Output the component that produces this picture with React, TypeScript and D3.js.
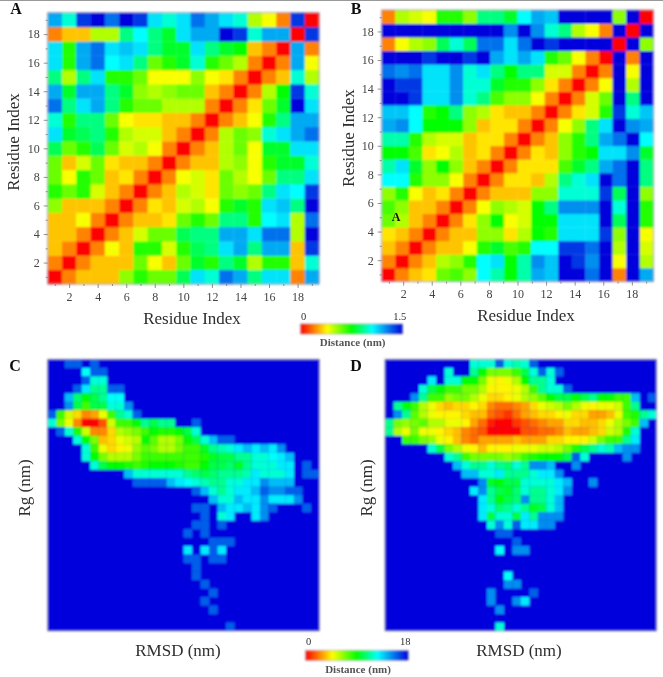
import React, { useRef, useEffect } from 'react';
import * as d3 from 'd3';

// Distance maps, lower triangle, row 1 first, in tenths of a nm (0 - 15)
const matrixA = [
  [0],
  [2, 0],
  [3, 2, 0],
  [3, 3, 2, 0],
  [3, 3, 4, 2, 0],
  [5.5, 3, 3, 3, 2, 0],
  [7, 6, 7, 4.5, 3, 2, 0],
  [6, 4, 7, 6, 3, 3.5, 2, 0],
  [6, 3, 4.5, 6, 3.5, 3, 3, 2, 0],
  [8.5, 6, 7, 8.5, 6, 4.5, 5, 4, 2, 0],
  [11, 8, 8.5, 9, 7, 5, 4.5, 4.5, 3, 2, 0],
  [10, 7, 9, 9, 6, 4, 3.5, 3.5, 3, 3, 2, 0],
  [13, 9, 11, 12, 9, 7, 6, 6, 5, 5, 5, 2, 0],
  [12, 8, 12, 12, 9, 8, 5.5, 5, 5.5, 6, 6, 3, 2, 0],
  [9, 5, 9, 11, 7, 7, 6, 4, 4, 4, 5.5, 4, 3.5, 2, 0],
  [11, 7, 12, 13, 10.5, 11, 9, 6, 7, 8, 10, 7, 6, 5, 2, 0],
  [11, 7, 12, 13, 11, 11.5, 11, 9, 8, 8, 11, 9, 8, 7.5, 3, 2, 0],
  [2, 3, 3, 5, 5, 9, 10.5, 9, 8, 11, 12, 12, 15, 14, 10, 12, 12, 0],
  [12, 10, 14, 15, 13, 15, 14, 11, 10, 11, 13, 12, 11, 10, 5, 4, 2, 14, 0]
];

// B has 20 cells per side, though its axes only count to 19
const matrixB = [
  [0],
  [2, 0],
  [3, 2, 0],
  [3.5, 3, 2, 0],
  [6, 5, 3, 2, 0],
  [6.5, 5.5, 3, 3, 2, 0],
  [5.5, 7, 4, 3, 3.5, 2, 0],
  [10.5, 10.5, 7, 5.5, 5.5, 4, 2, 0],
  [9.5, 11, 8, 5.5, 7.5, 5.5, 3, 2, 0],
  [7.5, 7.5, 6.5, 3.5, 4, 5, 3, 3.5, 2, 0],
  [9.5, 9.5, 7, 5, 4.5, 4.5, 3, 3.5, 3.5, 2, 0],
  [12, 12.5, 10.5, 7.5, 7.5, 7.5, 5.5, 3, 3.5, 3.5, 2, 0],
  [11.5, 11.5, 10.5, 7, 7.5, 9, 5.5, 5, 3.5, 3, 3, 2, 0],
  [15, 15, 14, 11, 11, 12.5, 10, 9, 6.5, 5.5, 5.5, 4, 2, 0],
  [15, 14, 14, 11, 11, 12.5, 10, 10, 8, 7, 7, 5.5, 3.5, 2, 0],
  [13, 12.5, 13, 11, 11, 12.5, 10, 11, 9, 7.5, 9, 9, 4.5, 4.5, 2, 0],
  [15, 15, 15, 14, 15, 15, 14, 15, 12, 11, 12, 11, 7, 6, 4, 2, 0],
  [2, 4, 5, 5.5, 8.5, 10, 8.5, 13, 13, 11, 13, 15, 14, 15, 15, 15, 15, 0],
  [15, 15, 15, 15, 15, 15, 15, 15, 15, 12.5, 15, 12.5, 10, 9, 5, 4, 2, 15, 0],
  [2, 5, 4.5, 4, 7, 7, 5.5, 9, 9, 8, 10.5, 12, 11.5, 15, 15, 15, 15, 5.5, 15, 0]
];

// the one cell of map B that does not mirror: [column, row, value]
const oddCellsB = [[20, 1, 12]];

// Histograms: [row from top, first column, values...], everything else is background (18)
const histC = [
  [0, 2, 16, 16, 18, 16],
  [1, 4, 12.5, 16, 16],
  [2, 4, 16, 12, 12],
  [3, 3, 16, 13, 11, 11, 16, 16],
  [4, 2, 14, 10.5, 9, 10, 11, 12.5, 12.5],
  [5, 2, 15, 10, 8, 10, 10, 12, 12, 15],
  [6, 0, 16, 8, 5.5, 4, 2.5, 3, 5, 8, 11, 12, 16],
  [7, 0, 12, 7, 5, 2.5, 0, 0, 1.5, 5.5, 8, 8, 9, 11, 10, 11, 11, 18, 18, 16],
  [8, 1, 16, 12, 8.5, 5.5, 2.5, 2.5, 4, 6, 6.5, 7, 8, 9, 8.5, 8.5, 9, 10, 12],
  [9, 3, 12, 9, 7, 3.5, 4, 5, 5.5, 6, 9, 7.5, 6, 6, 7, 9, 10, 12, 14, 16, 16],
  [10, 4, 12, 8, 5, 4, 4.5, 5, 6.5, 7.5, 7, 6, 6, 7, 8, 8, 9.5, 11, 11.5, 12, 13, 14, 13, 14, 13, 15],
  [11, 4, 12, 9, 7, 6, 6, 6, 7, 8, 8, 8, 8, 8, 8, 8, 8.5, 9.5, 10, 10, 11, 11, 12, 12, 12.5, 13, 14],
  [12, 5, 12, 10, 9, 9, 8.5, 8, 8.5, 9, 9, 9, 8.5, 8, 8, 9, 10, 10, 10.5, 9.5, 11, 12, 12, 12, 13, 13, 18, 16],
  [13, 9, 14, 12, 12, 12, 12, 12, 12, 11, 10.5, 10, 10.5, 11, 11, 11, 11.5, 13, 12, 12, 12, 13, 18, 16, 16],
  [14, 10, 16, 16, 16, 16, 14, 13, 12.5, 12, 11.5, 11, 11, 12, 12, 13, 13, 15, 14, 14, 14],
  [15, 17, 16, 14, 12, 11, 12, 13, 13, 14, 16, 15, 15, 16, 16],
  [16, 19, 14, 12, 12, 14, 13, 13, 15, 13, 13, 13, 15],
  [17, 17, 16, 16, 18, 14, 13, 13, 14, 13, 15, 16, 18, 18, 18, 16],
  [18, 18, 16, 18, 12, 13, 18, 18, 13, 15],
  [19, 17, 16, 16, 18, 16],
  [20, 16, 16, 18, 16],
  [21, 19, 16, 16, 16],
  [22, 16, 13, 18, 13, 16, 13],
  [23, 16, 16, 16, 18, 16, 16],
  [24, 17, 16],
  [25, 17, 16],
  [26, 18, 16],
  [27, 19, 16],
  [28, 18, 16],
  [29, 19, 16],
  [31, 21, 16]
];

const histD = [
  [0, 10, 12, 12, 12, 16, 12, 11.5, 12, 16],
  [1, 7, 12, 18, 18, 11, 9, 7, 7, 7, 8, 10, 12, 16, 12, 16],
  [2, 5, 13, 18, 12, 12, 9, 9, 7, 5, 4.5, 5, 6, 9, 11, 11, 12],
  [3, 4, 12, 10, 9, 8, 8, 7, 7, 6, 4.5, 4.5, 4.5, 5, 6, 8, 11, 12, 12, 16],
  [4, 3, 15, 11, 8, 8, 6.5, 7, 7, 6, 5, 4, 4, 4.5, 5, 6, 6.5, 7.5, 9, 10, 10, 9, 10, 11, 9, 9, 8, 8, 14, 18, 16],
  [5, 1, 11, 9, 8, 6, 5, 4, 3.5, 4, 4, 4.5, 4, 2.5, 2, 2, 2.5, 3, 4, 5, 5.5, 6, 7, 6, 5, 4.5, 5, 5, 5.5, 8, 11],
  [6, 1, 15, 11, 7.5, 6, 5, 4.5, 4.5, 4.5, 4, 3.5, 3.5, 2, 1.5, 1, 2, 3, 3.5, 4, 4, 4.5, 5, 4, 4, 3, 3, 3.5, 5, 8, 8.5, 11, 12],
  [7, 0, 11, 7, 6.5, 7, 7.5, 6, 6, 5, 5, 4.5, 3, 2, 0.5, 0, 0, 1, 1.5, 2, 2.5, 3, 3, 4, 4, 3.5, 3.5, 4, 5, 6, 7, 8, 14],
  [8, 0, 11, 6, 5, 7, 5, 5, 4.5, 4, 3.5, 2.5, 2, 1.5, 0, 0, 0, 0, 1.5, 1.5, 2, 2, 2.5, 3.5, 3, 3, 3.5, 4, 5.5, 6, 8.5, 12],
  [9, 2, 8, 8, 7, 6.5, 5, 4.5, 3.5, 2.5, 2, 3, 3, 3, 3, 3.5, 3, 3, 3, 4, 4, 4.5, 4.5, 4.5, 5.5, 7, 8, 8, 11, 13],
  [10, 5, 12, 10, 7, 6, 5, 4.5, 3.5, 4.5, 4.5, 4.5, 5, 5, 5, 5.5, 5.5, 6, 7, 8.5, 10, 11, 12, 11.5, 14, 15, 15],
  [11, 7, 12, 11, 8, 7, 7, 7, 7, 6.5, 7, 8, 8.5, 9, 9, 9, 10, 16, 12, 18, 18, 18, 18, 15],
  [12, 8, 14, 12, 11, 11, 12, 11, 10.5, 12, 11, 15, 15, 14, 18, 18, 15],
  [13, 9, 14, 14, 12, 12, 13, 11, 11, 11, 12, 13, 13, 15],
  [14, 11, 15, 9.5, 9, 10, 10, 12, 12, 12, 12, 13, 14, 18, 18, 15],
  [15, 10, 13, 15, 11, 10, 9.5, 10.5, 12, 11, 11, 12, 13, 15],
  [16, 11, 13, 11, 9, 10, 10.5, 15, 11, 11, 12, 14],
  [17, 11, 13, 12, 10.5, 11, 12, 11, 9.5, 10, 12, 14],
  [18, 11, 13, 10, 12, 12, 10, 13, 11, 15, 15, 15],
  [19, 12, 12, 15, 12, 16, 13, 13, 15, 15],
  [20, 13, 16, 16],
  [21, 15, 16],
  [22, 13, 12.5, 18, 15, 15],
  [25, 14, 12.5],
  [26, 14, 15, 15],
  [27, 12, 15, 18, 18, 18, 18, 16],
  [28, 12, 15, 18, 18, 15, 13],
  [29, 13, 15],
  [31, 13, 12]
];

const residueTicks = d3.range(1, 20);
const stops = [0, 0.26, 0.5, 0.7, 1];
const stopColors = ['#ff0000', '#ffff00', '#00ff00', '#00ffff', '#0000dc'];
const serif = '"Liberation Serif", "Times New Roman", serif';
const textColor = '#2e2e2e';

const App = () => {
  const svgRef = useRef<SVGSVGElement>(null);

  useEffect(() => {
    const svg = d3.select(svgRef.current);
    svg.selectAll('*').remove();

    const defs = svg.append('defs');
    const addBlur = (id: string, amount: number) => {
      defs.append('filter').attr('id', id)
        .attr('filterUnits', 'userSpaceOnUse')
        .attr('x', 0).attr('y', 0).attr('width', 663).attr('height', 677)
        .append('feGaussianBlur').attr('stdDeviation', amount);
    };
    addBlur('soft', 0.8);
    addBlur('softText', 0.35);

    const grad = defs.append('linearGradient').attr('id', 'jetLegend');
    stops.forEach((s, i) => grad.append('stop').attr('offset', s).attr('stop-color', stopColors[i]));

    const color = d3.scaleLinear<string>().domain(stops).range(stopColors).clamp(true);
    const root = svg.append('g').attr('filter', 'url(#soft)');
    const textLayer = svg.append('g').attr('filter', 'url(#softText)');

    textLayer.append('line').attr('x1', 0).attr('x2', 663).attr('y1', 0.5).attr('y2', 0.5)
      .attr('stroke', '#999').attr('stroke-width', 1);

    const label = (x: number, y: number, text: string, size: number, opts: any = {}) => {
      const t = textLayer.append('text')
        .attr('x', x).attr('y', y)
        .attr('font-family', serif).attr('font-size', size)
        .attr('fill', opts.fill || textColor)
        .attr('text-anchor', opts.anchor || 'middle')
        .attr('font-weight', opts.weight || 'normal')
        .text(text);
      if (opts.rotate) t.attr('transform', `rotate(-90 ${x} ${y})`);
    };

    // Panels A and B: symmetric residue distance maps
    const drawMap = (matrix: number[][], odd: number[][], left: number, top: number, size: number) => {
      const n = matrix.length;
      const band = d3.scaleBand<number>().domain(d3.range(1, n + 1)).range([0, size]);
      const x = d3.scaleLinear().domain([0.5, 19.5]).range([left, left + size]);
      const y = d3.scaleLinear().domain([0.5, 19.5]).range([top + size, top]);
      const cells: { c: number; r: number; v: number }[] = [];
      matrix.forEach((row, i) => row.forEach((v, j) => {
        cells.push({ c: j + 1, r: i + 1, v });
        if (i !== j) cells.push({ c: i + 1, r: j + 1, v });
      }));
      odd.forEach(([c, r, v]) => {
        const hit = cells.find(d => d.c === c && d.r === r);
        if (hit) hit.v = v;
      });
      const val = d3.scaleLinear().domain([0, 15]).range([0, 1]);
      const g = root.append('g').attr('transform', `translate(${left},${top})`);
      g.selectAll('rect').data(cells).enter().append('rect')
        .attr('x', d => band(d.c) as number)
        .attr('y', d => size - (band(d.r) as number) - band.bandwidth())
        .attr('width', band.bandwidth() + 0.3).attr('height', band.bandwidth() + 0.3)
        .attr('fill', d => color(val(d.v)));
      root.append('rect').attr('x', left).attr('y', top).attr('width', size).attr('height', size)
        .attr('fill', 'none').attr('stroke', '#8f8f9f').attr('stroke-width', 0.8);

      const styleAxis = (a: any) => {
        a.select('.domain').remove();
        a.selectAll('line').attr('stroke', '#777').attr('stroke-width', 0.8);
        a.selectAll('text').attr('font-family', serif).attr('font-size', 12).attr('fill', '#444');
      };
      const fmt = (d: any) => (d % 2 === 0 ? String(d) : '');
      const gx = textLayer.append('g').attr('transform', `translate(0,${top + size})`)
        .call(d3.axisBottom(x).tickValues(residueTicks).tickSize(3).tickPadding(5).tickFormat(fmt));
      styleAxis(gx);
      gx.selectAll('.tick line').attr('y2', (d: any) => (d % 2 === 0 ? 4 : 2));
      const gy = textLayer.append('g').attr('transform', `translate(${left},0)`)
        .call(d3.axisLeft(y).tickValues(residueTicks).tickSize(3).tickPadding(5).tickFormat(fmt));
      styleAxis(gy);
      gy.selectAll('.tick line').attr('x2', (d: any) => (d % 2 === 0 ? -4 : -2));
    };

    // Panels C and D: 32 x 32 histograms on a blue background
    const drawHist = (rows: number[][], left: number, top: number, size: number) => {
      const band = d3.scaleBand<number>().domain(d3.range(32)).range([0, size]);
      const val = d3.scaleLinear().domain([0, 18]).range([0, 1]);
      const cells: { c: number; r: number; v: number }[] = [];
      rows.forEach(([r, start, ...vals]) => vals.forEach((v, i) => {
        if (v < 18) cells.push({ c: start + i, r, v });
      }));
      const g = root.append('g').attr('transform', `translate(${left},${top})`);
      g.append('rect').attr('width', size).attr('height', size).attr('fill', color(1));
      g.selectAll('.cell').data(cells).enter().append('rect')
        .attr('class', 'cell')
        .attr('x', d => band(d.c) as number).attr('y', d => band(d.r) as number)
        .attr('width', band.bandwidth() + 0.2).attr('height', band.bandwidth() + 0.2)
        .attr('fill', d => color(val(d.v)));
      g.append('rect').attr('width', size).attr('height', size)
        .attr('fill', 'none').attr('stroke', '#8f8f9f').attr('stroke-width', 0.8);
    };

    const drawLegend = (left: number, top: number, w: number, h: number, max: string, labelY: number, textY: number) => {
      root.append('rect').attr('x', left).attr('y', top).attr('width', w).attr('height', h)
        .attr('fill', 'url(#jetLegend)').attr('stroke', '#777').attr('stroke-width', 0.5);
      label(left + 3, labelY, '0', 10.5);
      label(left + w - 3, labelY, max, 10.5);
      label(left + w / 2 + 1, textY, 'Distance (nm)', 11, { weight: 'bold', fill: '#555' });
    };

    drawMap(matrixA, [], 47.7, 12.7, 271.3);
    drawMap(matrixB, oddCellsB, 381.7, 10, 271.6);
    drawHist(histC, 47.7, 359.3, 271.6);
    drawHist(histD, 385, 359.3, 271.6);

    drawLegend(300.7, 324, 102, 10, '1.5', 320, 346);
    drawLegend(305.7, 650.7, 102.6, 9.5, '18', 645, 673);

    label(192, 324, 'Residue Index', 17);
    label(19, 142, 'Residue Index', 17, { rotate: true });
    label(526, 321, 'Residue Index', 17);
    label(354, 138, 'Residue Index', 17, { rotate: true });
    label(178, 656, 'RMSD (nm)', 17);
    label(30, 488, 'Rg (nm)', 17, { rotate: true });
    label(519, 656, 'RMSD (nm)', 17);
    label(372, 488, 'Rg (nm)', 17, { rotate: true });

    label(16, 14, 'A', 16, { weight: 'bold', fill: '#111' });
    label(356, 14, 'B', 16, { weight: 'bold', fill: '#111' });
    label(15, 371, 'C', 16, { weight: 'bold', fill: '#111' });
    label(356, 371, 'D', 16, { weight: 'bold', fill: '#111' });
    label(396, 221, 'A', 12, { weight: 'bold', fill: '#111' });
  }, []);

  return (
    <svg
      ref={svgRef}
      width={663}
      height={677}
      style={{ position: 'absolute', left: 0, top: 0, background: '#fff' }}
    />
  );
};

export default App;
